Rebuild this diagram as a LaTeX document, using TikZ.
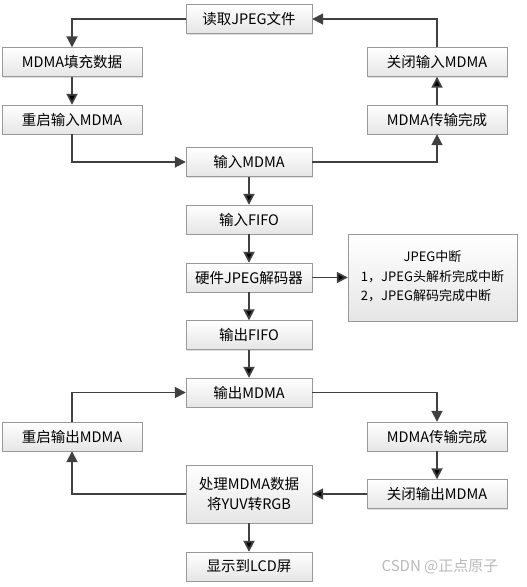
\documentclass[tikz,border=0pt]{standalone}
\usepackage{fontspec}
\setmainfont{Noto Sans CJK SC}
\usetikzlibrary{arrows.meta, shadows}

\begin{document}
\begin{tikzpicture}[
            x = 1pt, y = -1pt, % pixel grid, y going down
            > = {Triangle[length=11pt, width=11pt]}, % arrow head style
            font = \fontsize{14.5}{19.5}\selectfont
        ]

        \tikzstyle{block}=[
            draw = gray!80,
            top color = white,
            bottom color = gray!20,
            drop shadow = {shadow xshift=1.2pt, shadow yshift=-1.2pt, opacity=0.25},
            minimum width = 126pt,
            minimum height = 29pt,
            inner sep = 2pt
        ]
        \tikzstyle{side}=[block, minimum width = 140pt]
        \tikzstyle{link}=[->, draw = black!75, line width = 1.8pt]

        \useasboundingbox (0,0) rectangle (527,587);

        % input side
        \node[block] (read)    at (249,19)    {读取JPEG文件};
        \node[side]  (fill)    at (72,62)     {MDMA填充数据};
        \node[side]  (rsin)    at (72,119.5)  {重启输入MDMA};
        \node[block] (inm)     at (249,162)   {输入MDMA};
        \node[side]  (donein)  at (437,119.5) {MDMA传输完成};
        \node[side]  (closein) at (437,62)    {关闭输入MDMA};

        % decoder
        \node[block] (infifo)  at (249,219.5) {输入FIFO};
        \node[block] (dec)     at (249,277.5) {硬件JPEG解码器};
        \node[block, minimum width=169pt, minimum height=87pt, font=\fontsize{13}{19.5}\selectfont] (irq) at (432.5,277.5) {%
            \begin{tabular}{@{}l@{}}
            \multicolumn{1}{@{}c@{}}{JPEG中断}\\
            1，JPEG头解析完成中断\\
            2，JPEG解码完成中断
            \end{tabular}};
        \node[block] (outfifo) at (249,335)   {输出FIFO};

        % output side
        \node[block] (outm)     at (249,392.5) {输出MDMA};
        \node[side]  (doneout)  at (437,436.5) {MDMA传输完成};
        \node[side]  (closeout) at (437,494)   {关闭输出MDMA};
        \node[block, minimum height=58pt, align=center] (proc) at (249,494) {处理MDMA数据\\将YUV转RGB};
        \node[side]  (rsout)    at (72,436.5)  {重启输出MDMA};
        \node[block] (lcd)      at (249,566.5) {显示到LCD屏};

        \node[text = gray!55, font=\fontsize{15}{18}\selectfont] (mark) at (440,566) {CSDN @正点原子};

        \draw[link] (read.west) -| (fill.north);
        \path[link] (fill) edge (rsin);
        \draw[link] (rsin.south) |- (inm.west);
        \draw[link] (inm.east) -| (donein.south);
        \path[link] (donein) edge (closein);
        \draw[link] (closein.north) |- (read.east);

        \path[link] (inm) edge (infifo);
        \path[link] (infifo) edge (dec);
        \path[link] (dec) edge (irq);
        \path[link] (dec) edge (outfifo);
        \path[link] (outfifo) edge (outm);

        \draw[link] (outm.east) -| (doneout.north);
        \path[link] (doneout) edge (closeout);
        \path[link] (closeout) edge (proc);
        \draw[link] (proc.west) -| (rsout.south);
        \draw[link] (rsout.north) |- (outm.west);
        \path[link] (proc) edge (lcd);
    \end{tikzpicture}
\end{document}
